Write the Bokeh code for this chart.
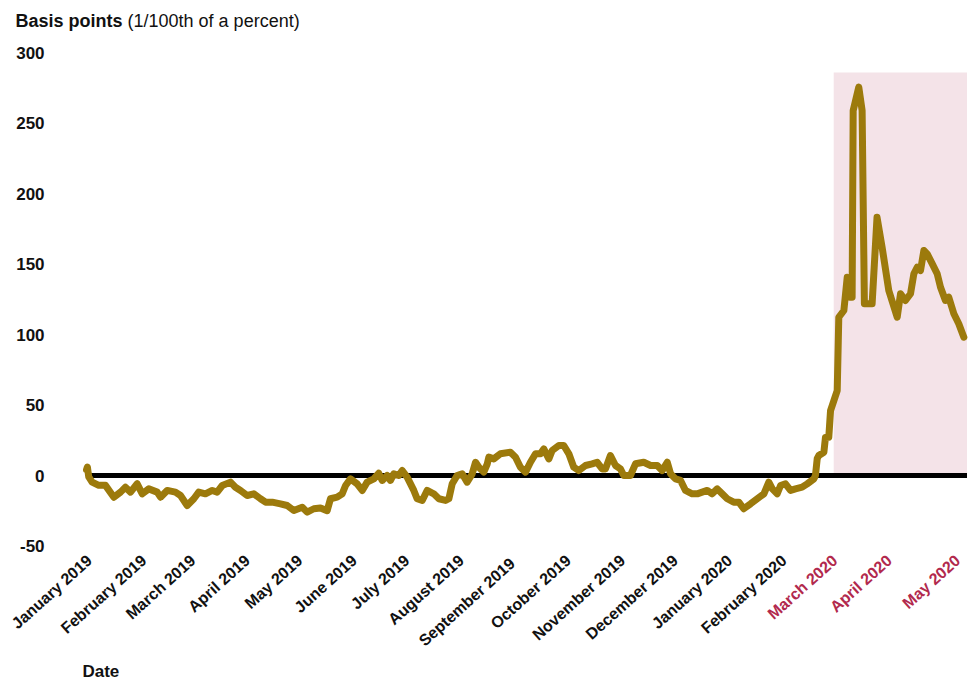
import math
import pandas as pd
from bokeh.plotting import figure
from bokeh.models import Range1d, ColumnDataSource
from bokeh.core.properties import value
from bokeh.embed import file_html
from bokeh.resources import INLINE

# ---------------- data ----------------
START_DATE = "2019-01-01"

# days since START_DATE
day_offsets = [
    0, 0.5, 1.3, 3.2, 7.0, 10.8, 15.6, 19.4, 22.2, 25.1,
    28.9, 31.8, 35.5, 40.3, 42.2, 46.0, 50.7, 53.6, 57.4, 61.2,
    64.0, 67.8, 71.7, 74.5, 77.4, 82.1, 84.9, 87.8, 91.6, 95.4,
    99.2, 102.1, 105.9, 110.6, 114.4, 118.2, 123.0, 125.8, 129.6, 133.4,
    137.2, 139.1, 142.9, 145.8, 147.7, 150.5, 154.3, 157.2, 160.0, 163.8,
    166.6, 168.6, 171.4, 173.3, 175.2, 178.0, 180.0, 182.8, 186.6, 188.5,
    191.4, 194.2, 198.0, 200.9, 204.7, 206.6, 208.5, 211.3, 214.2, 217.0,
    219.9, 221.8, 223.7, 226.5, 228.5, 229.4, 232.2, 236.0, 241.7, 244.6,
    247.4, 250.3, 253.1, 256.0, 258.8, 260.7, 263.6, 265.5, 269.3, 272.1,
    275.0, 277.8, 280.7, 284.5, 288.3, 291.1, 294.0, 295.9, 298.7, 301.6,
    304.4, 306.3, 310.1, 313.0, 317.7, 321.6, 325.4, 328.2, 331.1, 333.0,
    335.8, 338.7, 341.5, 345.3, 348.2, 351.0, 353.9, 356.7, 359.6, 362.4,
    365.3, 369.0, 371.9, 374.7, 378.6, 382.4, 386.2, 389.0, 391.0, 393.8,
    395.7, 398.5, 401.4, 404.2, 408.0, 410.9, 414.7, 415.6, 416.6, 417.5,
    420.4, 421.3, 423.2, 424.2, 426.1, 428.0, 428.9, 431.8, 433.7, 435.2,
    436.5, 437.1, 440.3, 442.2, 443.5, 447.9, 450.7, 453.6, 457.4, 462.2,
    464.1, 466.9, 469.8, 471.7, 473.6, 475.5, 477.4, 479.3, 482.2, 485.0,
    486.9, 489.7, 491.6, 494.5, 497.3, 500.2,
]

# basis points
spread_bp = [
    4, 6, -1, -4.7, -7, -7, -15.4, -11.8, -8.3, -11.8,
    -5.9, -13, -9.5, -11.8, -15.4, -10.6, -11.8, -14.2, -21.3, -16.5,
    -11.8, -13, -10.6, -11.8, -7.1, -4.7, -8.3, -10.6, -14.2, -13,
    -16.5, -18.9, -18.9, -20.1, -21.3, -24.8, -22.5, -26, -23.6, -23,
    -25, -16.5, -15.4, -13, -7.1, -2.4, -5.9, -10.6, -4.7, -2.4,
    1.6, -3.5, 0, -3.5, 1.2, 0, 3.5, -1.2, -10.6, -16.5,
    -17.7, -10.6, -13, -16.5, -17.7, -16.5, -5.9, 0, 1.2, -4.7,
    1.2, 9.4, 5.9, 2.4, 8.3, 13, 11.8, 15.4, 16.5, 13,
    5.9, 2.4, 9.4, 15.4, 15.4, 18.9, 11.8, 17.7, 21.3, 21.3,
    15.4, 5.9, 3.5, 7.1, 8.3, 9.4, 4.7, 4.7, 14.2, 7.1,
    4.7, 0, 0, 8.3, 9.4, 7.1, 7.1, 3.5, 9.4, 1.2,
    -2.4, -3.5, -10.6, -13, -13, -11.8, -10.6, -13, -9.5, -13,
    -16.5, -18.9, -18.9, -23.6, -20.1, -16.5, -13, -4.7, -9.5, -13,
    -7.1, -5.9, -10.6, -9.5, -8.3, -5.9, -2.4, 0, 12, 14.2,
    16.5, 27, 27.2, 46.1, 53.2, 60.3, 112.3, 117.1, 140.7, 126.5,
    126.5, 259, 275.6, 259, 121.9, 121.9, 183.3, 162, 131.3, 112.3,
    129, 124.2, 129, 143.2, 147.8, 145.5, 159.7, 157.3, 150.2, 143.2,
    133.6, 124.2, 126.5, 114.8, 107.7, 98.2,
]

month_labels = [
    "January 2019", "February 2019", "March 2019", "April 2019", "May 2019",
    "June 2019", "July 2019", "August 2019", "September  2019", "October 2019",
    "November 2019", "December 2019", "January 2020", "February 2020",
    "March 2020", "April 2020", "May 2020",
]
month_label_dates = [
    "2019-01-01", "2019-02-01", "2019-03-01", "2019-04-01", "2019-05-01",
    "2019-06-01", "2019-07-01", "2019-08-01", "2019-09-01", "2019-10-01",
    "2019-11-01", "2019-12-01", "2020-01-01", "2020-02-01",
    "2020-03-01", "2020-04-01", "2020-05-10",
]
highlighted_months = ["March 2020", "April 2020", "May 2020"]

shade_start_date = "2020-03-02"
shade_end_date = "2020-05-17"
shade_top_bp = 286

y_ticks = [-50, 0, 50, 100, 150, 200, 250, 300]

# ---------------- styles / layout ----------------
FONT = "Liberation Sans"
LINE_COLOR = "#9C7A0C"
SHADE_COLOR = "#F4E3E8"
RED = "#B2294D"
INK = "#111111"

start = pd.Timestamp(START_DATE)


def to_day(d):
    return (pd.Timestamp(d) - start).days


W, H = 972, 681
PX_PER_DAY = 1.754
PX_PER_BP = 1.409
X0 = -86 / PX_PER_DAY
X1 = X0 + W / PX_PER_DAY
Y1 = 475 / PX_PER_BP
Y0 = Y1 - H / PX_PER_BP

p = figure(
    width=W, height=H,
    x_range=Range1d(X0, X1), y_range=Range1d(Y0, Y1),
    output_backend="svg", toolbar_location=None,
    min_border_left=0, min_border_right=0, min_border_top=0, min_border_bottom=0,
)
p.outline_line_color = None
p.grid.visible = False
p.axis.visible = False

# shaded March-May 2020 window
p.quad(left=[to_day(shade_start_date)], right=[to_day(shade_end_date)], bottom=[0],
       top=[shade_top_bp], fill_color=SHADE_COLOR, line_color=None)

# zero line
p.line([day_offsets[0], to_day(shade_end_date)], [0, 0], line_color="black", line_width=5)

# series
p.line(day_offsets, spread_bp, line_color=LINE_COLOR, line_width=7,
       line_join="round", line_cap="round")

# y tick labels (value axis)
ytick_src = ColumnDataSource(dict(
    x=[-23.9] * len(y_ticks), y=y_ticks, text=[str(t) for t in y_ticks]))
p.text(x="x", y="y", text="text", source=ytick_src, text_align="right",
       text_baseline="middle", text_font=value(FONT), text_font_style="bold",
       text_font_size="17px", text_color=INK)

# month tick labels (date axis)
mon_src = ColumnDataSource(dict(
    x=[to_day(d) for d in month_label_dates],
    y=[-58.5] * len(month_labels),
    text=month_labels,
    color=[RED if m in highlighted_months else INK for m in month_labels],
))
p.text(x="x", y="y", text="text", source=mon_src, angle=math.radians(42),
       x_offset=3, text_align="right", text_baseline="middle", text_font=value(FONT),
       text_font_style="bold", text_font_size="16px", text_color="color")

# titles
p.text(x=[-40.5], y=[322.9], text=["Basis points"], text_align="left",
       text_baseline="middle", text_font=value(FONT), text_font_style="bold",
       text_font_size="18px", text_color=INK)
p.text(x=[23.4], y=[322.9], text=["(1/100th of a percent)"], text_align="left",
       text_baseline="middle", text_font=value(FONT), text_font_style="normal",
       text_font_size="18px", text_color=INK)
p.text(x=[-2.3], y=[-139.1], text=["Date"], text_align="left",
       text_baseline="middle", text_font=value(FONT), text_font_style="bold",
       text_font_size="17px", text_color=INK)

open("out.html", "w").write(file_html(p, INLINE))
